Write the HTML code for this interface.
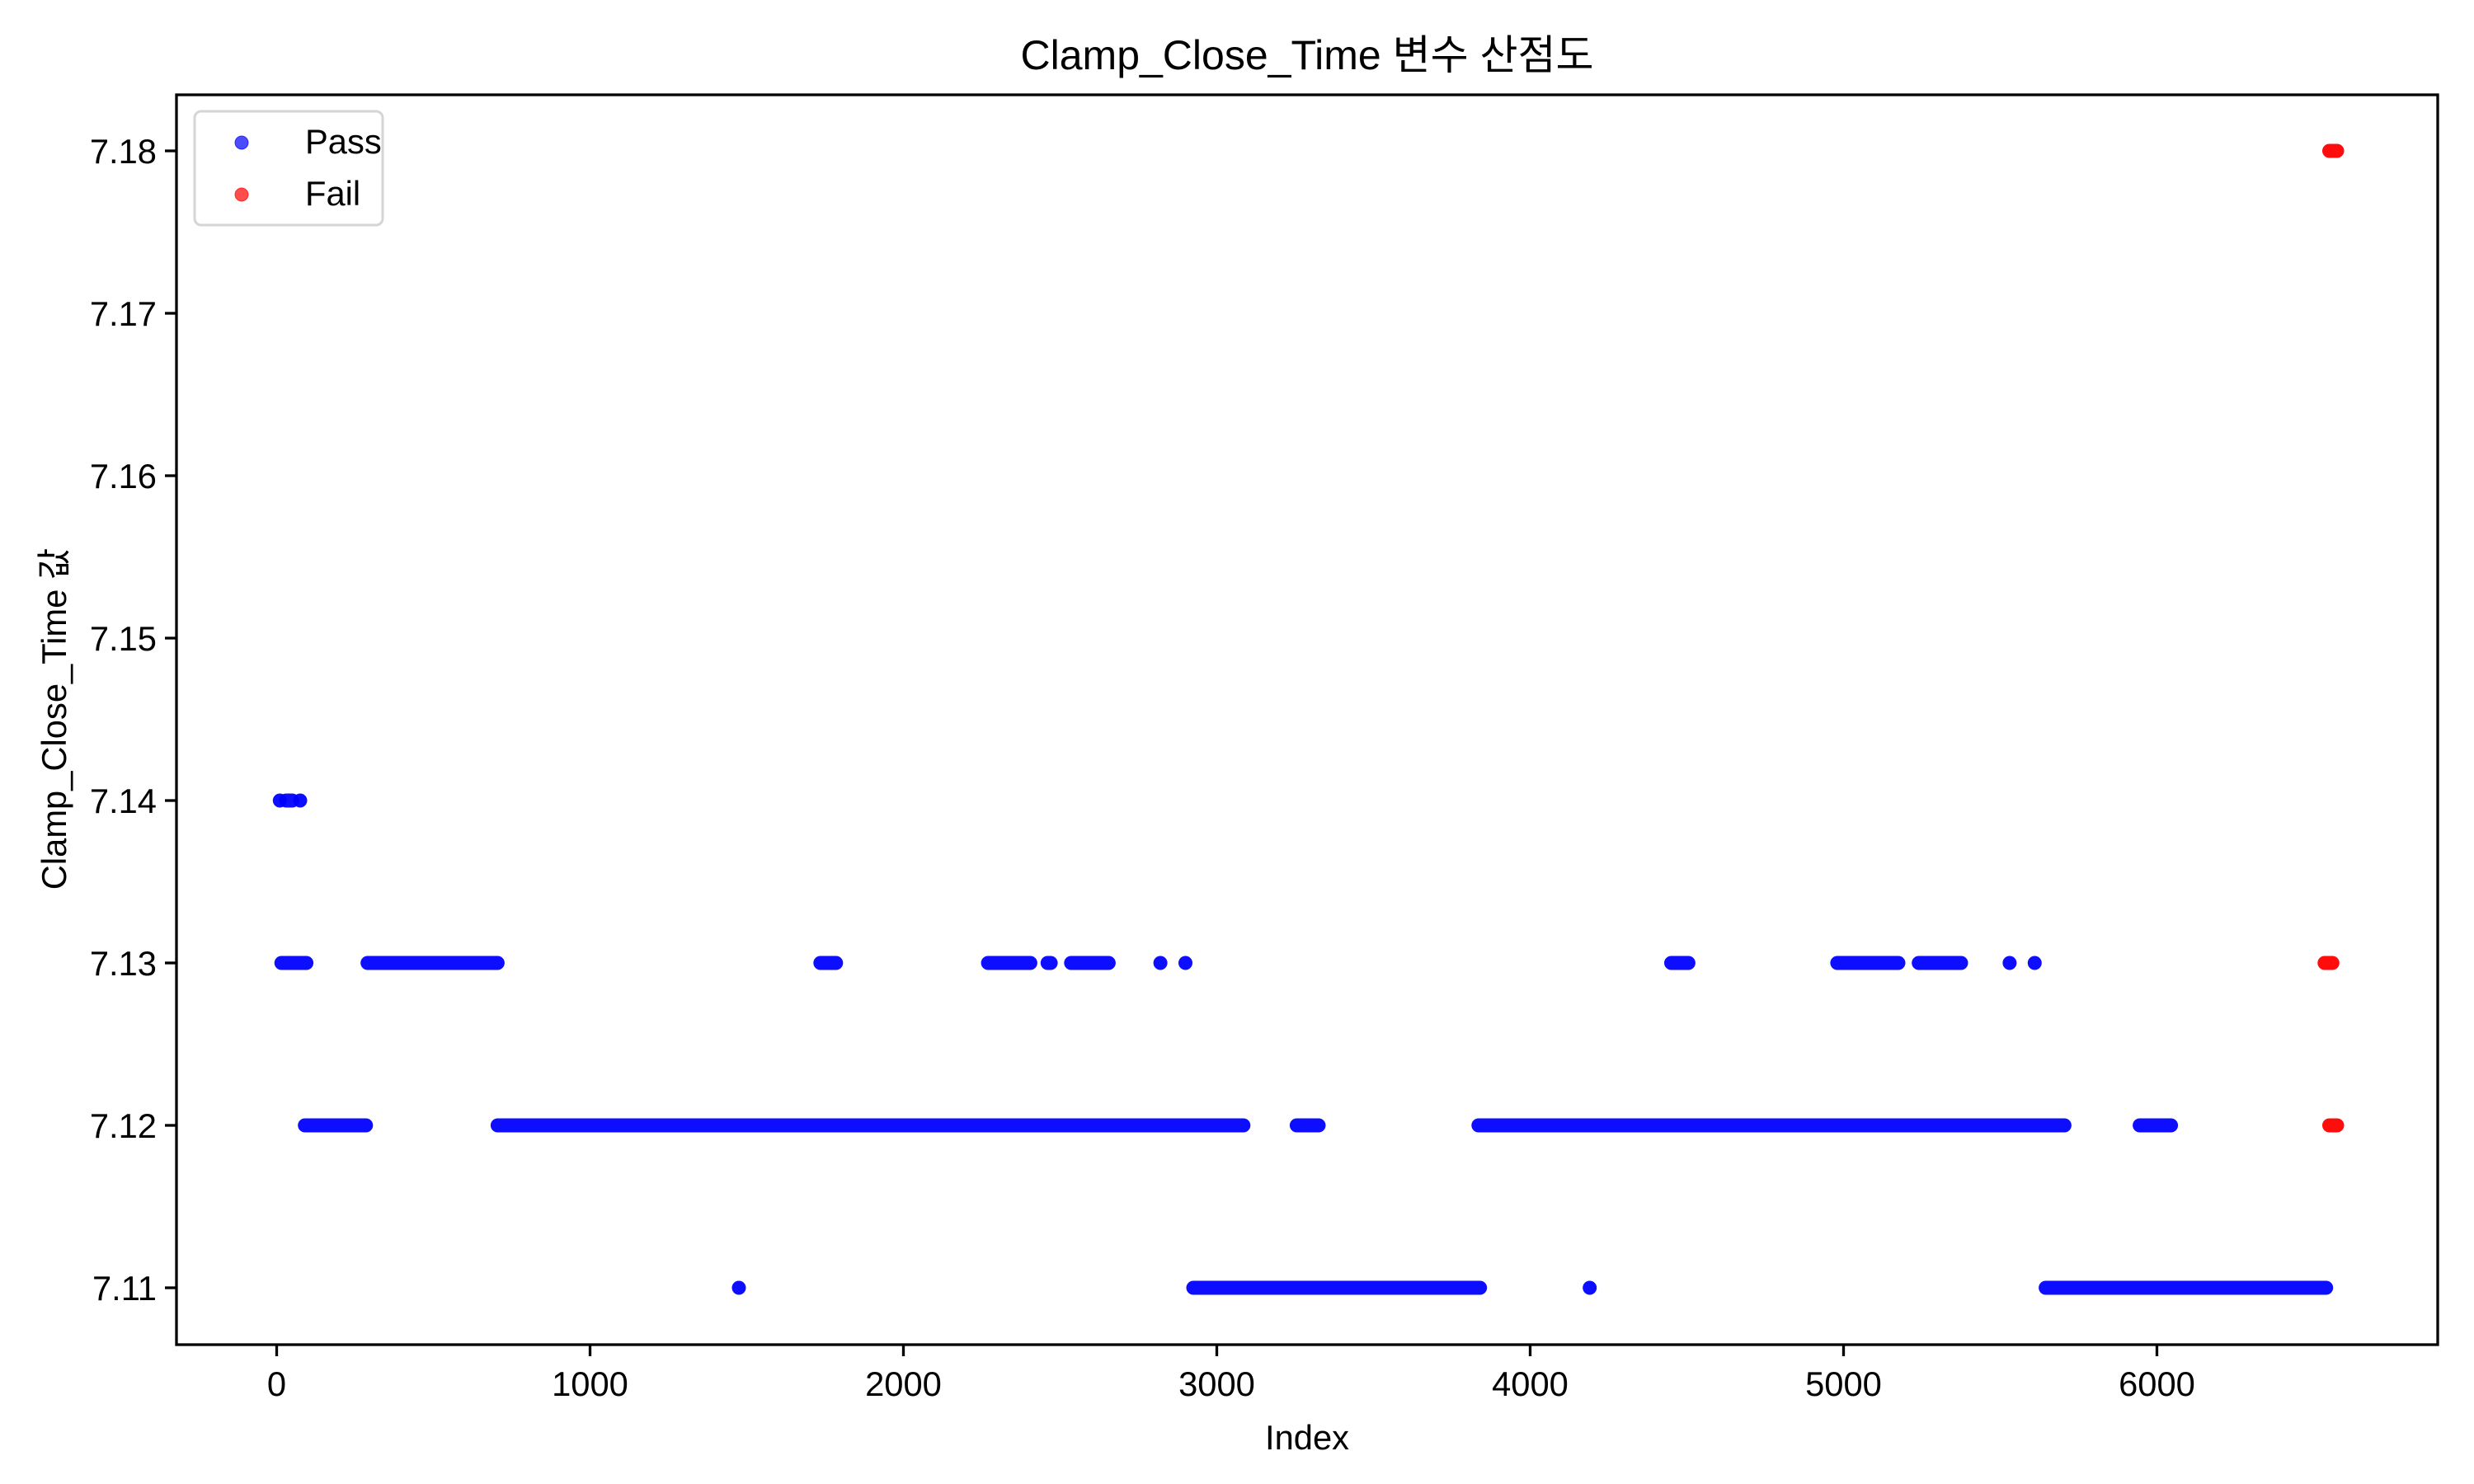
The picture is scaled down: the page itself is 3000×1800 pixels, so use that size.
<!DOCTYPE html>
<html><head><meta charset="utf-8"><style>
body{margin:0;background:#fff}
svg{display:block;font-family:"Liberation Sans","Noto Sans CJK KR",sans-serif}
</style></head><body>
<svg id="chart" width="3000" height="1800" viewBox="0 0 3000 1800">
<rect width="3000" height="1800" fill="#fff"/>
<text x="1585" y="84" font-size="50" text-anchor="middle">Clamp_Close_Time 변수 산점도</text>
<text x="1585" y="1758" font-size="41.7" text-anchor="middle">Index</text>
<text transform="translate(80,872) rotate(-90)" font-size="41.7" text-anchor="middle">Clamp_Close_Time 값</text>
<g id="marks"></g>
<g id="axes"></g>
<g>
<rect x="236" y="135" width="228" height="138" rx="8" fill="#fff" fill-opacity="0.8" stroke="#d5d5d5" stroke-width="3"/>
<circle cx="293" cy="173" r="8" fill="#0000ff" fill-opacity="0.7" stroke="#0000ff" stroke-opacity="0.7"/>
<text x="370" y="186" font-size="41.7">Pass</text>
<circle cx="293" cy="236" r="8" fill="#ff0000" fill-opacity="0.7" stroke="#ff0000" stroke-opacity="0.7"/>
<text x="370" y="249" font-size="41.7">Fail</text>
</g>
</svg>
<script>
const xTicks = [0,1000,2000,3000,4000,5000,6000];
const yTicks = [7.11,7.12,7.13,7.14,7.15,7.16,7.17,7.18];
const yTickLabels = ["7.11","7.12","7.13","7.14","7.15","7.16","7.17","7.18"];
// runs of consecutive points: start index, end index, value
const passStart = [10,30,75, 15,290,1735,2270,2460,2535,2820,2900,4450,4980,5240,5530,5610, 90,705,3255,3835,5945, 1475,2925,4190,5645];
const passEnd   = [10,50,75, 95,705,1785,2405,2470,2655,2820,2900,4505,5175,5375,5530,5610, 285,3085,3325,5705,6045, 1475,3840,4190,6540];
const passValue = [7.14,7.14,7.14, 7.13,7.13,7.13,7.13,7.13,7.13,7.13,7.13,7.13,7.13,7.13,7.13,7.13, 7.12,7.12,7.12,7.12,7.12, 7.11,7.11,7.11,7.11];
const failStart = [6550,6535,6550];
const failEnd   = [6575,6560,6575];
const failValue = [7.18,7.13,7.12];

const L=214,R=2956,T=115,B=1631;
const xs = v => 335.5 + v*0.38;
const ys = v => 1562 - (v-7.11)*19700;
const NS="http://www.w3.org/2000/svg";
const marks=document.getElementById('marks'), axes=document.getElementById('axes');
function mk(tag,attrs,parent){const e=document.createElementNS(NS,tag);for(const k in attrs)e.setAttribute(k,attrs[k]);parent.appendChild(e);return e;}

function drawRuns(st,en,val,color,name){
  for(let i=0;i<st.length;i++){
    const l=mk('line',{x1:xs(st[i]),x2:xs(en[i]),y1:ys(val[i]),y2:ys(val[i]),stroke:color,'stroke-width':17,'stroke-linecap':'round','stroke-opacity':0.95},marks);
    
    
  }
}
drawRuns(passStart,passEnd,passValue,'#0000ff','pass-points');
drawRuns(failStart,failEnd,failValue,'#ff0000','fail-points');

const frame=mk('rect',{x:L,y:T,width:R-L,height:B-T,fill:'none',stroke:'#000','stroke-width':3.3},axes);


xTicks.forEach(v=>{
  const t=mk('line',{x1:xs(v),x2:xs(v),y1:B,y2:B+14,stroke:'#000','stroke-width':3.3},axes);
  
  
  const tx=mk('text',{x:xs(v),y:B+62,'font-size':41.7,'text-anchor':'middle'},axes);
  tx.textContent=String(v);
  
  
});
yTicks.forEach((v,i)=>{
  const t=mk('line',{x1:L-14,x2:L,y1:ys(v),y2:ys(v),stroke:'#000','stroke-width':3.3},axes);
  
  
  const tx=mk('text',{x:L-24,y:ys(v)+15,'font-size':41.7,'text-anchor':'end'},axes);
  tx.textContent=yTickLabels[i];
  
  
});
</script>
</body></html>
